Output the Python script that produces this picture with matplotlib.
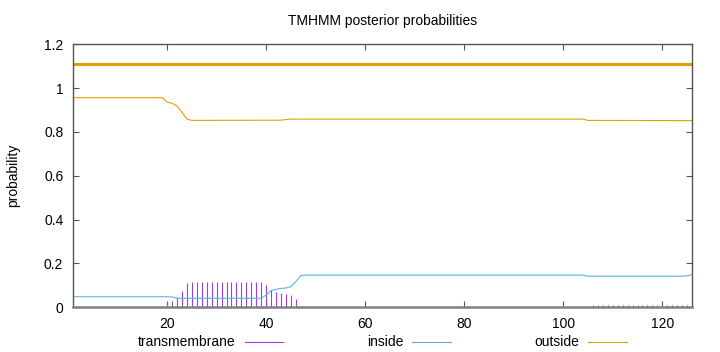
import matplotlib
matplotlib.use("Agg")
import matplotlib.pyplot as plt
from matplotlib.lines import Line2D

plt.rcParams['font.family'] = ['Liberation Sans', 'DejaVu Sans']

## posterior probabilities per residue (sequence length 126)
seq_len = 126

# transmembrane (impulses)
tm_pos = list(range(19, 47)) + list(range(106, 127))
tm_val = [0.005, 0.024, 0.027, 0.044, 0.075, 0.111,
          0.114, 0.114, 0.114, 0.114, 0.114, 0.114, 0.114, 0.114,
          0.114, 0.114, 0.114, 0.114, 0.114, 0.114, 0.114,
          0.100, 0.078, 0.070, 0.065, 0.060, 0.055, 0.037] + [0.008] * 21

# inside
in_pos = [1, 20, 21, 22, 39, 40, 41, 42, 43, 44, 45, 46, 47, 48, 104, 105, 124, 125, 126]
in_val = [0.047, 0.047, 0.046, 0.040, 0.040, 0.055, 0.075, 0.081, 0.085, 0.087,
          0.093, 0.116, 0.143, 0.146, 0.146, 0.141, 0.141, 0.143, 0.148]

# outside
out_pos = [1, 19, 20, 21, 22, 23, 24, 25, 43, 44, 45, 104, 105, 126]
out_val = [0.957, 0.957, 0.936, 0.932, 0.919, 0.890, 0.859, 0.853, 0.854,
           0.857, 0.859, 0.859, 0.853, 0.852]

# predicted topology bar (whole sequence outside)
topo_start, topo_end, topo_level = 1, 126, 1.11

c_tm = '#A040E0'
c_in = '#56B4E9'
c_out = '#E69F00'

fig = plt.figure(figsize=(7.2, 3.52), dpi=100)
ax = fig.add_axes([0.1014, 0.1278, 0.8597, 0.7458])

ax.vlines(tm_pos, 0, tm_val, color=c_tm, lw=0.8)
ax.plot(in_pos, in_val, color=c_in, lw=0.8)
ax.plot(out_pos, out_val, color=c_out, lw=0.8)
ax.plot([topo_start, topo_end], [topo_level, topo_level], color=c_out, lw=2.2)

ax.set_xlim(1, seq_len)
ax.set_ylim(0, 1.2)
ax.set_xticks([20, 40, 60, 80, 100, 120])
ax.set_yticks([0, 0.2, 0.4, 0.6, 0.8, 1.0, 1.2])
ax.set_yticklabels(['0', '0.2', '0.4', '0.6', '0.8', '1', '1.2'])
ax.tick_params(direction='in', length=4, width=0.8, color='#555555',
               top=True, right=True, labelsize=10, pad=7)
for s in ax.spines.values():
    s.set_color('#555555')
    s.set_linewidth(1.0)
ax.spines['bottom'].set_color('#808080')
ax.spines['bottom'].set_linewidth(1.8)

ax.set_ylabel('probability', fontsize=10, labelpad=17)
ax.set_title('TMHMM posterior probabilities', fontsize=10, pad=14)

handles = [Line2D([], [], color=c_tm, lw=0.8),
           Line2D([], [], color=c_in, lw=0.8),
           Line2D([], [], color=c_out, lw=0.8)]
ax.legend(handles, ['transmembrane', 'inside', 'outside'], ncol=3,
          loc='upper center', bbox_to_anchor=(0.5, -0.108), frameon=False,
          markerfirst=False, handlelength=2.8, handletextpad=0.65,
          columnspacing=6.0, fontsize=10, borderpad=0, borderaxespad=0)

fig.savefig('out.png', dpi=100)
